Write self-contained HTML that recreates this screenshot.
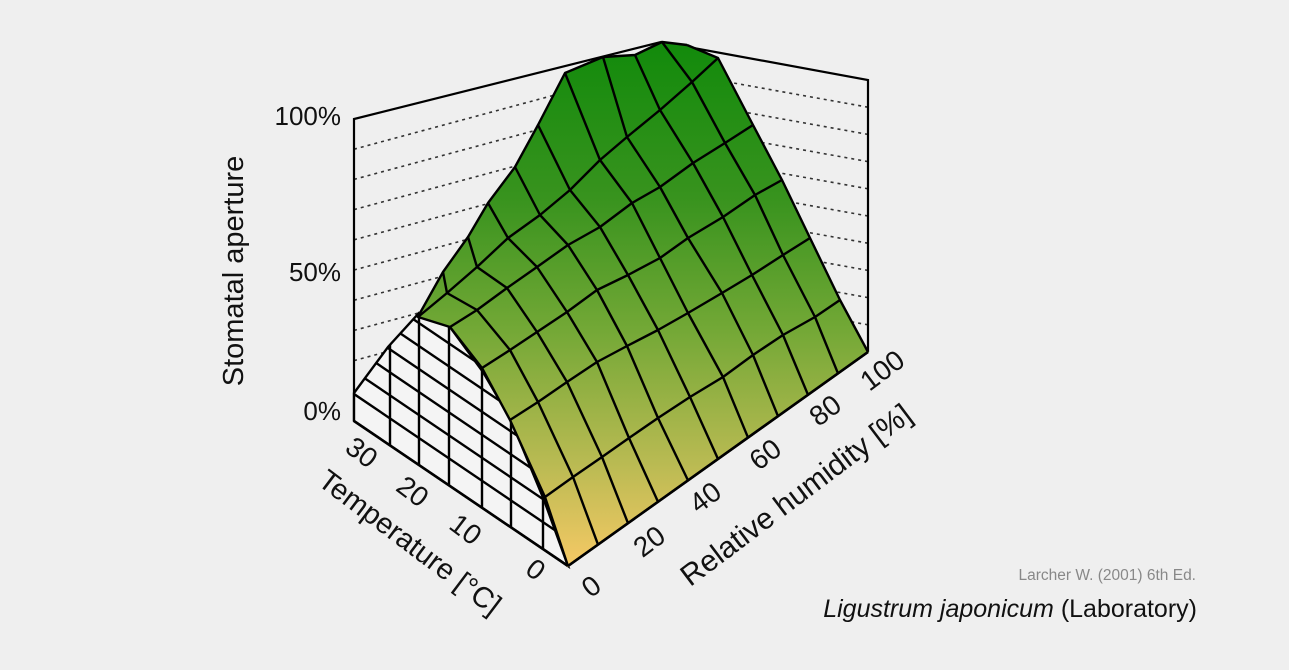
<!DOCTYPE html>
<html><head><meta charset="utf-8">
<style>
html,body{margin:0;padding:0;background:#efefef;}
svg{display:block;font-family:"Liberation Sans",sans-serif;}
</style></head>
<body>
<svg id="s" width="1289" height="670" viewBox="0 0 1289 670" xmlns="http://www.w3.org/2000/svg">
<defs>
<linearGradient id="g" gradientUnits="userSpaceOnUse" x1="0" y1="40" x2="0" y2="567">
<stop offset="0" stop-color="#118a0b"/>
<stop offset="0.3" stop-color="#38931e"/>
<stop offset="0.55" stop-color="#73a836"/>
<stop offset="0.8" stop-color="#b8ba52"/>
<stop offset="1" stop-color="#f6c965"/>
</linearGradient>
<clipPath id="wf"><polygon points="354,421 354,393 388,347 419,313 450,327 483,372 511,420 544,500 568,566"/></clipPath>
</defs>
<rect width="1289" height="670" fill="#efefef"/>
<g id="dash" stroke="#333" stroke-width="1.6" stroke-dasharray="3,4"></g>
<g id="walls" fill="none" stroke="#000" stroke-width="2.2">
<polyline points="354,421 354,119 661,42 868,80 868,352"/>
</g>
<polygon points="354,421 354,393 388,347 419,313 450,327 483,372 511,420 544,500 568,566" fill="#f4f4f4"/>
<g id="wfg" clip-path="url(#wf)" stroke="#000" stroke-width="2.4"></g>
<polygon points="354,421 354,393 388,347 419,313 450,327 483,372 511,420 544,500 568,566" fill="none" stroke="#000" stroke-width="2.4"/>
<g id="surf"></g>
<g id="lines" fill="none" stroke="#000" stroke-width="2.4" stroke-linejoin="round"></g>
<line x1="354" y1="421" x2="568" y2="566" stroke="#000" stroke-width="2.6"/>
<line x1="568" y1="566" x2="868" y2="352" stroke="#000" stroke-width="2.6"/>

<g fill="#111">
<text x="341" y="125" text-anchor="end" font-size="26">100%</text>
<text x="341" y="281" text-anchor="end" font-size="26">50%</text>
<text x="341" y="420" text-anchor="end" font-size="26">0%</text>
<text transform="translate(243,271) rotate(-90)" text-anchor="middle" font-size="29">Stomatal aperture</text>
<g font-size="28">
<text transform="translate(356,460) rotate(37)" text-anchor="middle">30</text>
<text transform="translate(407,499) rotate(37)" text-anchor="middle">20</text>
<text transform="translate(460,537) rotate(37)" text-anchor="middle">10</text>
<text transform="translate(530,577) rotate(37)" text-anchor="middle">0</text>
<text transform="translate(404,550) rotate(37)" text-anchor="middle" font-size="29">Temperature [°C]</text>
<text transform="translate(597,594) rotate(-37)" text-anchor="middle">0</text>
<text transform="translate(655,549) rotate(-37)" text-anchor="middle">20</text>
<text transform="translate(711,505) rotate(-37)" text-anchor="middle">40</text>
<text transform="translate(771,462) rotate(-37)" text-anchor="middle">60</text>
<text transform="translate(831,418) rotate(-37)" text-anchor="middle">80</text>
<text transform="translate(888,378) rotate(-37)" text-anchor="middle">100</text>
<text transform="translate(802,503) rotate(-37)" text-anchor="middle" font-size="30">Relative humidity [%]</text>
</g>
</g>
<text x="1196" y="580" text-anchor="end" font-size="15.5" fill="#888">Larcher W. (2001) 6th Ed.</text>
<text x="1197" y="617" text-anchor="end" font-size="25" fill="#111"><tspan font-style="italic">Ligustrum japonicum</tspan> (Laboratory)</text>
</svg>
<script>
var NS="http://www.w3.org/2000/svg";
function el(p,t,a){var e=document.createElementNS(NS,t);for(var k in a)e.setAttribute(k,a[k]);p.appendChild(e);return e;}
var R={};
R[7]=[];for(var j=0;j<=10;j++)R[7].push([568+30*j,566-21.4*j]);
R[6]=[[545,497],[573,477],[602,457],[629,438],[658,418],[690,397],[723,377],[753,355],[783,335],[815,317],[840,300]];
R[5]=[[510,420],[538,402],[567,382],[597,362],[627,346],[658,330],[688,313],[722,293],[752,275],[783,255],[810,238]];
R[4]=[[482,368],[510,350],[537,332],[567,312],[597,290],[628,275],[660,258],[688,238],[723,217],[755,195],[782,180]];
R[3]=[[450,327],[477,310],[507,288],[537,267],[568,245],[600,227],[632,203],[660,187],[693,163],[725,143],[753,125]];
R[2]=[[418,317],[447,293],[477,267],[508,238],[540,215],[570,190],[600,160],[627,137],[660,110],[692,82],[718,58]];
R[1]=[[420,313],[443,272],[468,237],[488,203],[515,167],[538,125],[565,73],[603,57],[635,55],[662,42],[687,45]];
var surf=document.getElementById("surf"),L=document.getElementById("lines");
function pts(a){return a.map(function(p){return p[0]+","+p[1];}).join(" ");}
for(var i=1;i<7;i++)for(var j=0;j<10;j++){
 var q=[R[i][j],R[i][j+1],R[i+1][j+1],R[i+1][j]];
 el(surf,"polygon",{points:pts(q),fill:"url(#g)",stroke:"url(#g)","stroke-width":"1.5"});
}
for(var i=1;i<=7;i++)el(L,"polyline",{points:pts(R[i])});
for(var j=0;j<=10;j++){var a=[];for(var i=1;i<=7;i++)a.push(R[i][j]);el(L,"polyline",{points:pts(a)});}
var D=document.getElementById("dash");
for(var k=1;k<10;k++){var y=119+30.2*k;el(D,"line",{x1:354,y1:y,x2:650,y2:y-0.27*296});}
for(var k=1;k<10;k++){var y=80+27.2*k;el(D,"line",{x1:868,y1:y,x2:600,y2:y-0.18*268});}
var W=document.getElementById("wfg");
var xs=[390,419,449,482,511,543];
xs.forEach(function(x){el(W,"line",{x1:x,y1:421+(x-354)*0.678,x2:x,y2:200});});
for(var k=0;k<7;k++){var h=27+23*k;el(W,"line",{x1:340,y1:421-0.678*14-h,x2:600,y2:421+0.678*246-h});}
</script>
</body></html>
